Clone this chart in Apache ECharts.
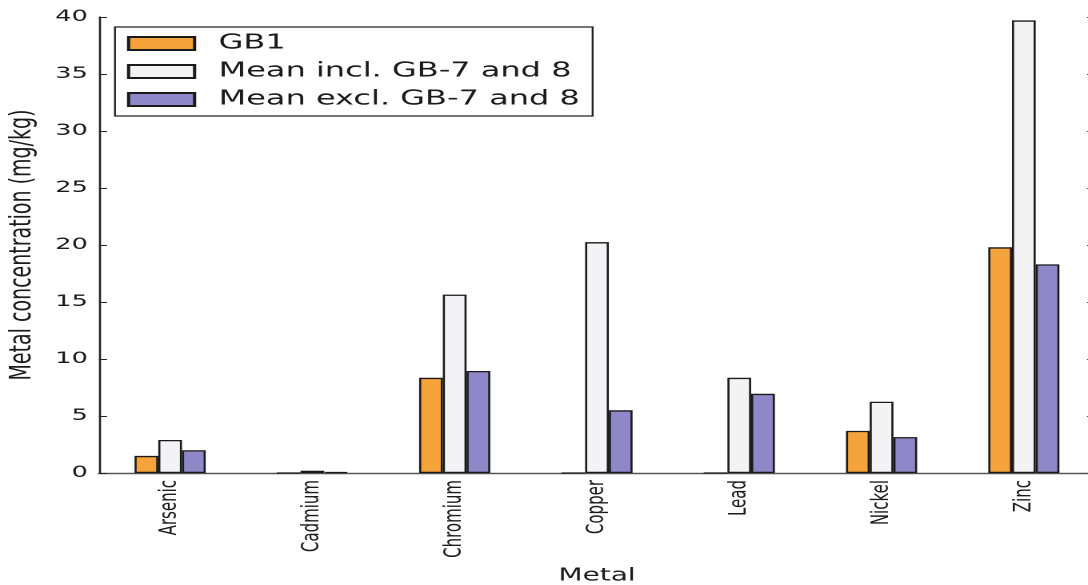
<!DOCTYPE html>
<html><head><meta charset="utf-8">
<script src="https://cdn.jsdelivr.net/npm/echarts@6/dist/echarts.min.js"></script>
<style>
html,body{margin:0;padding:0;overflow:hidden;width:1088px;height:585px;background:#fff}
#wrap{width:1088px;height:585px;overflow:hidden;position:relative}
#chart{position:absolute;left:0;top:0;height:585px;transform-origin:0 0}
</style></head><body><div id="wrap"><div id="chart"></div></div>
<script>
// ---- data ----
const categories = ['Arsenic', 'Cadmium', 'Chromium', 'Copper', 'Lead', 'Nickel', 'Zinc'];
const gb1 =       [1.5, 0.0, 8.35, 0.0, 0.0, 3.7, 19.8];
const meanIncl =  [2.9, 0.2, 15.65, 20.25, 8.35, 6.25, 39.7];
const meanExcl =  [2.0, 0.08, 8.95, 5.5, 6.95, 3.15, 18.3];
const seriesNames = ['GB1', 'Mean incl. GB-7 and 8', 'Mean excl. GB-7 and 8'];
const yMin = 0, yMax = 40, yStep = 5;

// ---- layout (reference is horizontally stretched; reproduce via scaleX) ----
const S = 1.6;
const W = Math.round(1100 / S);
const el = document.getElementById('chart');
el.style.width = W + 'px';
el.style.transform = 'scaleX(' + S + ')';

const FONT = 'DejaVu Sans';
const chart = echarts.init(el, null, {renderer: 'canvas', devicePixelRatio: 2});
const border = {borderColor: '#1a1a1a', borderWidth: 1.3};
const colors = ['#F4A23A', '#F3F3F6', '#8F88C8'];
const dataSets = [gb1, meanIncl, meanExcl];

chart.setOption({
  animation: false,
  backgroundColor: '#fff',
  grid: {left: 99 / S, right: W - 1095 / S, top: 17, bottom: 112, containLabel: false, outerBoundsMode: 'none'},
  legend: {
    orient: 'vertical',
    left: 115 / S, top: 27,
    padding: [3, 8, 3, 7.5],
    itemGap: 1,
    itemWidth: 66 / S, itemHeight: 13,
    icon: 'rect',
    borderColor: '#222', borderWidth: 1.2,
    backgroundColor: '#fff',
    textStyle: {fontFamily: FONT, fontSize: 20, color: '#1a1a1a', lineHeight: 27, padding: [0, 0, 0, 10]},
    data: seriesNames
  },
  xAxis: [{
    type: 'category', data: categories, position: 'bottom',
    name: 'Metal', nameLocation: 'middle', nameGap: 94,
    nameTextStyle: {fontFamily: FONT, fontSize: 17.5, color: '#1a1a1a'},
    axisLine: {lineStyle: {color: '#222', width: 1.3}},
    axisTick: {inside: true, alignWithLabel: true, length: 6, lineStyle: {color: '#222'}},
    axisLabel: {rotate: 90, margin: 7, fontFamily: FONT, fontSize: 15, color: '#1a1a1a'}
  }, {
    type: 'category', data: categories, position: 'top',
    axisLine: {lineStyle: {color: '#555', width: 1.3}},
    axisTick: {inside: true, alignWithLabel: true, length: 6, lineStyle: {color: '#444'}},
    axisLabel: {show: false}
  }],
  yAxis: [{
    type: 'value', min: yMin, max: yMax, interval: yStep, position: 'left',
    name: 'Metal concentration (mg/kg)', nameLocation: 'middle', nameRotate: 90, nameGap: 35,
    nameTextStyle: {fontFamily: FONT, fontSize: 19, color: '#1a1a1a'},
    axisLine: {show: true, lineStyle: {color: '#222', width: 1.3}},
    axisTick: {show: true, inside: true, length: 8 / S, lineStyle: {color: '#222'}},
    axisLabel: {margin: 7, fontFamily: FONT, fontSize: 16, color: '#1a1a1a'},
    splitLine: {show: false}
  }, {
    type: 'value', min: yMin, max: yMax, interval: yStep, position: 'right',
    axisLine: {show: true, lineStyle: {color: '#222', width: 1.3}},
    axisTick: {show: true, inside: true, length: 8 / S, lineStyle: {color: '#444'}},
    axisLabel: {show: false},
    splitLine: {show: false}
  }],
  series: seriesNames.map((n, i) => ({
    name: n, type: 'bar', xAxisIndex: 0, yAxisIndex: 0,
    data: dataSets[i],
    barGap: '0%', barCategoryGap: '50%',
    itemStyle: Object.assign({color: colors[i]}, border)
  }))
});
</script></body></html>
